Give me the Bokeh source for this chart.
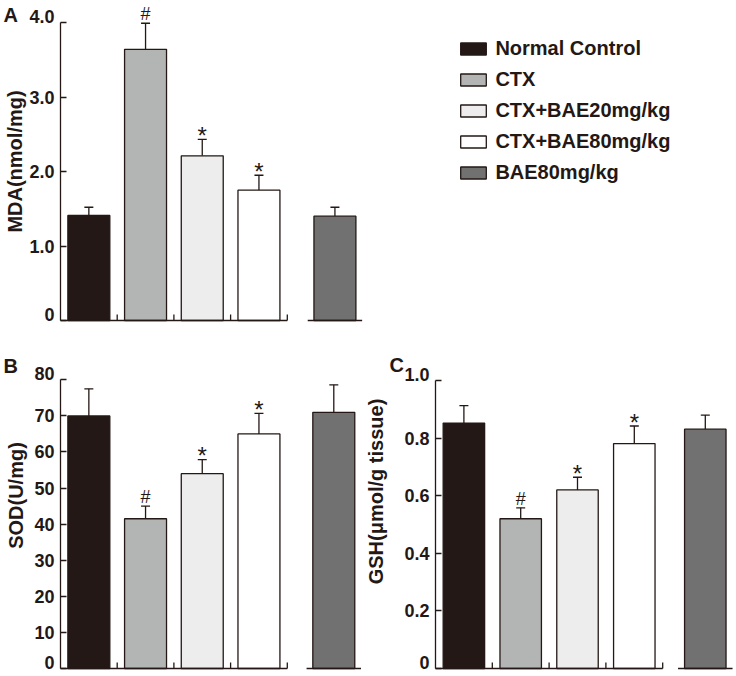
import math
from bokeh.plotting import figure
from bokeh.layouts import column, row
from bokeh.models import (ColumnDataSource, Range1d, FixedTicker, Whisker, TeeHead,
                          Label, LabelSet, Legend, LegendItem)
from bokeh.core.properties import value
from bokeh.embed import file_html
from bokeh.resources import INLINE

# ---------------- data ----------------
groups = ["Normal Control", "CTX", "CTX+BAE20mg/kg", "CTX+BAE80mg/kg", "BAE80mg/kg"]
colors = ["#231815", "#b3b4b4", "#ededed", "#ffffff", "#717171"]

mda_mean = [1.41, 3.64, 2.21, 1.75, 1.40]
mda_err = [0.11, 0.35, 0.22, 0.20, 0.12]
mda_marks = ["", "#", "*", "*", ""]
mda_ticks = [0, 1, 2, 3, 4]
mda_labels = ["0", "1.0", "2.0", "3.0", "4.0"]

sod_mean = [70.0, 41.5, 54.0, 65.0, 71.0]
sod_err = [7.5, 3.5, 3.9, 5.7, 7.6]
sod_marks = ["", "#", "*", "*", ""]
sod_ticks = [0, 10, 20, 30, 40, 50, 60, 70, 80]
sod_labels = ["0", "10", "20", "30", "40", "50", "60", "70", "80"]

gsh_mean = [0.852, 0.520, 0.620, 0.781, 0.831]
gsh_err = [0.061, 0.038, 0.044, 0.061, 0.049]
gsh_marks = ["", "#", "*", "*", ""]
gsh_ticks = [0, 0.2, 0.4, 0.6, 0.8, 1.0]
gsh_labels = ["0", "0.2", "0.4", "0.6", "0.8", "1.0"]

# ---------------- style ----------------
INK = "#231815"
FONT = "Liberation Sans"
LW = 1.3
TICK_FONT = "18px"


def make_panel(width, height, axis_px, y0px, ytop_px, ticks, labels, means, errs, marks,
               x5, pxx, bar_w, letter, letter_px, title, title_px):
    pxy = (y0px - ytop_px) / ticks[-1]
    y_end = y0px / pxy
    y_start = -(height - y0px) / pxy
    x_axis = 0.5
    x_start = x_axis - axis_px / pxx
    x_end = x_start + width / pxx

    p = figure(width=width, height=height, x_range=Range1d(x_start, x_end),
               y_range=Range1d(y_start, y_end), output_backend="svg",
               toolbar_location=None, x_axis_location=None, y_axis_location="left",
               min_border_left=0, min_border_right=0, min_border_top=0,
               min_border_bottom=0)
    p.grid.visible = False
    p.outline_line_color = None

    ax = p.yaxis[0]
    ax.fixed_location = x_axis
    ax.ticker = FixedTicker(ticks=ticks)
    # extreme labels sit on their tick (drawn below), middle ones centred on it
    ax.major_label_overrides = {t: (l if 0 < i < len(ticks) - 1 else "")
                                for i, (t, l) in enumerate(zip(ticks, labels))}
    ax.bounds = (0, ticks[-1])
    ax.major_tick_in = 6
    ax.major_tick_out = 0
    ax.minor_tick_line_color = None
    ax.axis_line_color = INK
    ax.axis_line_width = LW
    ax.major_tick_line_color = INK
    ax.major_tick_line_width = LW
    ax.major_label_text_font = FONT
    ax.major_label_text_font_style = "bold"
    ax.major_label_text_font_size = TICK_FONT
    ax.major_label_text_color = INK
    ax.major_label_standoff = 6
    ext = ColumnDataSource(dict(x=[x_axis, x_axis], y=[ticks[0], ticks[-1]],
                                t=[labels[0], labels[-1]]))
    p.add_layout(LabelSet(x="x", y="y", text="t", source=ext, x_offset=-6,
                          text_font=value(FONT), text_font_style="bold",
                          text_font_size=TICK_FONT, text_align="right",
                          text_baseline="alphabetic", text_color=INK))

    def to_data(fx, fy):
        return x_start + fx / pxx, (y0px - fy) / pxy

    xs = [1, 2, 3, 4, x5]
    upper = [m + e for m, e in zip(means, errs)]
    src = ColumnDataSource(dict(x=xs, mean=means, upper=upper, color=colors))
    bars = p.vbar(x="x", top="mean", bottom=0, width=bar_w, source=src,
                  fill_color="color", line_color=INK, line_width=LW)
    p.add_layout(Whisker(source=src, base="x", upper="upper", lower="mean",
                         line_color=INK, line_width=LW,
                         upper_head=TeeHead(size=9, line_color=INK, line_width=LW),
                         lower_head=None))

    mids = [(xs[i] + xs[i + 1]) / 2 for i in range(3)] + [xs[3] + 0.5]
    tick_h = 6 / pxy
    p.segment(x0=[x_axis, x5 - 0.48], y0=[0, 0], x1=[mids[-1], x5 + 0.48], y1=[0, 0],
              line_color=INK, line_width=LW)
    p.segment(x0=mids, y0=[0] * 4, x1=mids, y1=[tick_h] * 4,
              line_color=INK, line_width=LW)

    for sym, size, yoff in (("#", "18px", 3), ("*", "24px", -4.5)):
        idx = [i for i, m in enumerate(marks) if m == sym]
        if idx:
            s = ColumnDataSource(dict(x=[xs[i] for i in idx], y=[upper[i] for i in idx],
                                      t=[sym] * len(idx)))
            p.add_layout(LabelSet(x="x", y="y", text="t", source=s, text_align="center",
                                  text_baseline="alphabetic", y_offset=yoff,
                                  text_font=value(FONT), text_font_size=size,
                                  text_color=INK))

    lx, ly = to_data(*letter_px)
    lsrc = ColumnDataSource(dict(x=[lx], y=[ly], t=[letter]))
    p.add_layout(LabelSet(x="x", y="y", text="t", source=lsrc, text_font=value(FONT),
                          text_font_style="bold", text_font_size="20px",
                          text_align="left", text_baseline="alphabetic",
                          text_color=INK))
    tx, ty = to_data(*title_px)
    p.add_layout(Label(x=tx, y=ty, text=title, angle=math.pi / 2, text_font=FONT,
                       text_font_style="bold", text_font_size="20px", text_align="center",
                       text_baseline="middle", text_color=INK))
    return p, bars


pA, barsA = make_panel(736, 340, 60, 320, 22, mda_ticks, mda_labels, mda_mean, mda_err,
                       mda_marks, 5.34, 56.7, 0.74, "A", (3, 21), "MDA(nmol/mg)", (14.5, 161))
pB, _ = make_panel(363, 336, 60, 328, 39.3, sod_ticks, sod_labels, sod_mean, sod_err,
                   sod_marks, 5.32, 56.7, 0.74, "B", (3, 32), "SOD(U/mg)", (15, 155))
pC, _ = make_panel(373, 336, 72, 328, 40, gsh_ticks, gsh_labels, gsh_mean, gsh_err,
                   gsh_marks, 5.25, 56.8, 0.73, "C", (26, 31), "GSH(μmol/g tissue)", (12, 151))

# ---------------- legend (inside panel A, to the right of the bars) ----------------
items = [LegendItem(label=g, renderers=[barsA], index=i) for i, g in enumerate(groups)]
legend = Legend(items=items, location=(457.4, 156), margin=0, padding=10, spacing=8,
                glyph_width=32, glyph_height=15, label_height=22, label_standoff=6,
                label_text_font=FONT, label_text_font_style="bold",
                label_text_font_size="20px", label_text_color=INK,
                border_line_color=None, background_fill_alpha=0)
pA.add_layout(legend)

layout = column(pA, row(pB, pC))
open("out.html", "w").write(file_html(layout, INLINE))
